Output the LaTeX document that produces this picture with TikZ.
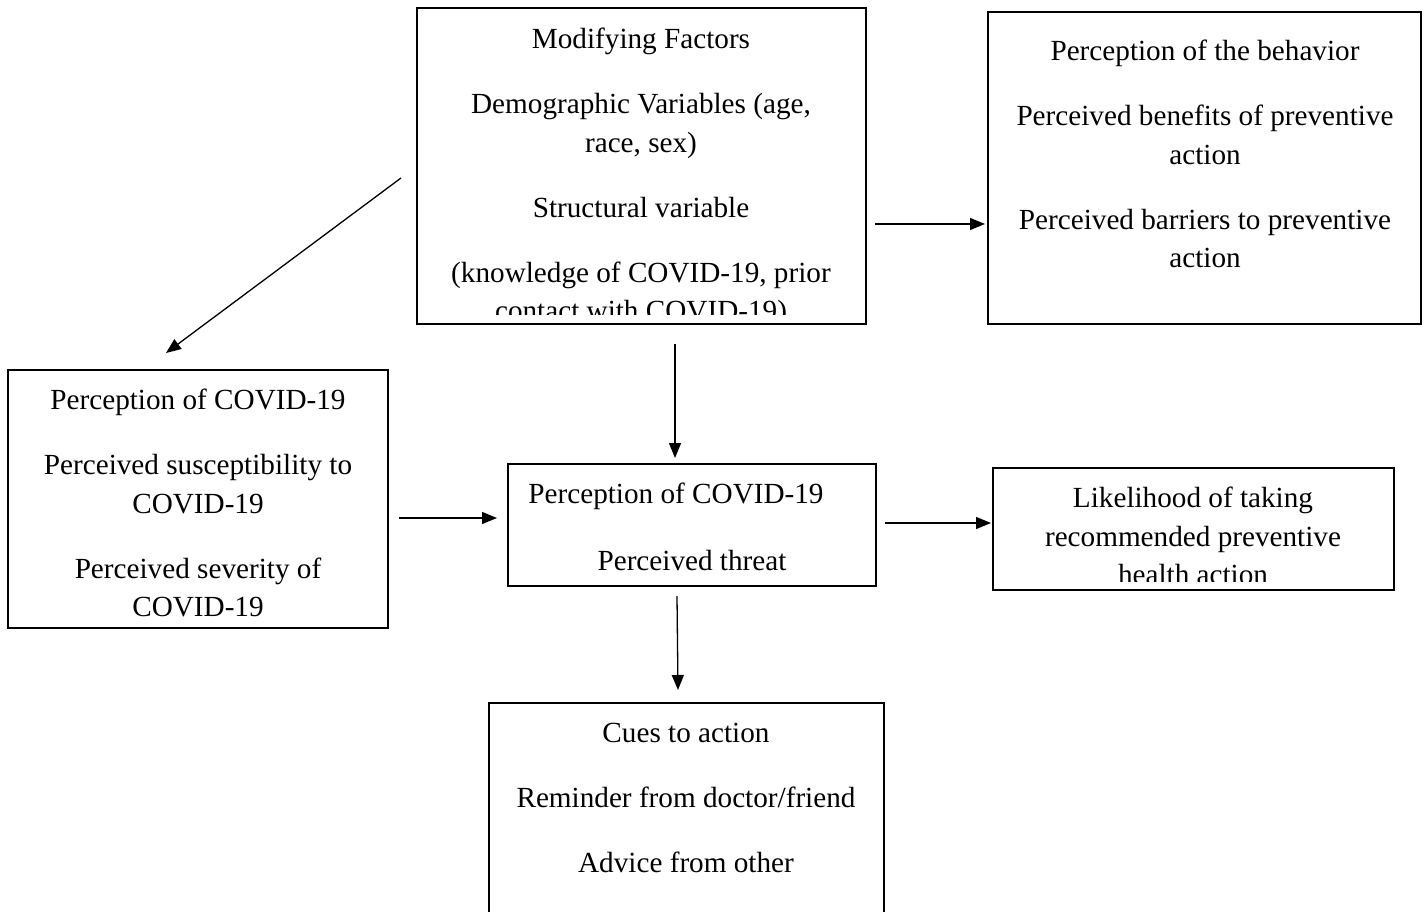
\documentclass[tikz,border=0pt]{standalone}
\usepackage{fontspec}
\setmainfont{Liberation Serif}
\usetikzlibrary{arrows.meta,calc}
\tikzset{
  box/.style={draw, line width=2pt, inner sep=0pt},
  txt/.style={anchor=north, inner sep=0pt, align=center, font=\fontsize{29.2}{38.5}\selectfont},
  arr/.style={-{Triangle[length=15pt,width=12pt]}, line width=1.3pt},
}
\newcommand{\pgap}{\\[26.5pt]}
\begin{document}
\begin{tikzpicture}[x=1pt, y=-1pt]
\useasboundingbox (0,0) rectangle (1428,912);
% Riquadri
\node[box, minimum width=449pt, minimum height=316pt] (mf) at (641.5,166) {};
\node[box, minimum width=433pt, minimum height=312pt] (beh) at (1204.5,168) {};
\node[box, minimum width=380pt, minimum height=258pt] (perc) at (198,499) {};
\node[box, minimum width=368pt, minimum height=122pt] (threat) at (692,525) {};
\node[box, minimum width=401pt, minimum height=122pt] (like) at (1193.5,529) {};
\node[box, minimum width=395pt, minimum height=215pt] (cues) at (686.5,810.5) {};
% Testi
\begin{scope}
  \clip (mf.north west) rectangle ($(mf.south east)+(0,-10)$);
  \node[txt] (mftext) at (641,28) {Modifying Factors\pgap Demographic Variables (age,\\ race, sex)\pgap Structural variable\pgap (knowledge of COVID-19, prior\\ contact with COVID-19)};
\end{scope}
\node[txt] (behtext) at (1205,40) {Perception of the behavior\pgap Perceived benefits of preventive\\ action\pgap Perceived barriers to preventive\\ action};
\node[txt] (perctext) at (198,389) {Perception of COVID-19\pgap Perceived susceptibility to\\ COVID-19\pgap Perceived severity of\\ COVID-19};
\node[txt] (threattext) at (692,483) {Perception of COVID-19\hspace*{32pt}\mbox{}\\[28.5pt] Perceived threat};
\begin{scope}
  \clip (like.north west) rectangle ($(like.south east)+(0,-10)$);
  \node[txt] (liketext) at (1193,487) {Likelihood of taking\\ recommended preventive\\ health action};
\end{scope}
\node[txt] (cuestext) at (686,723) {Cues to action\pgap Reminder from doctor/friend\pgap Advice from other};
% Frecce
\draw[arr] ($(mf.west)+(-15,12)$) -- ($(perc.north)+(-32,-16)$);
\draw[arr] ($(mf.east)+(8,58)$) -- ($(beh.west)+(-2,56)$);
\draw[arr] ($(mf.south)+(33.5,19)$) -- ($(threat.north)+(-17,-5)$);
\draw[arr] ($(perc.east)+(10,19)$) -- ($(threat.west)+(-10,-7)$);
\draw[arr] ($(threat.east)+(8,-2)$) -- ($(like.west)+(-1,-6)$);
\draw[arr] ($(threat.south)+(-15,9)$) -- ($(cues.north)+(-8.5,-12)$);
\end{tikzpicture}
\end{document}
